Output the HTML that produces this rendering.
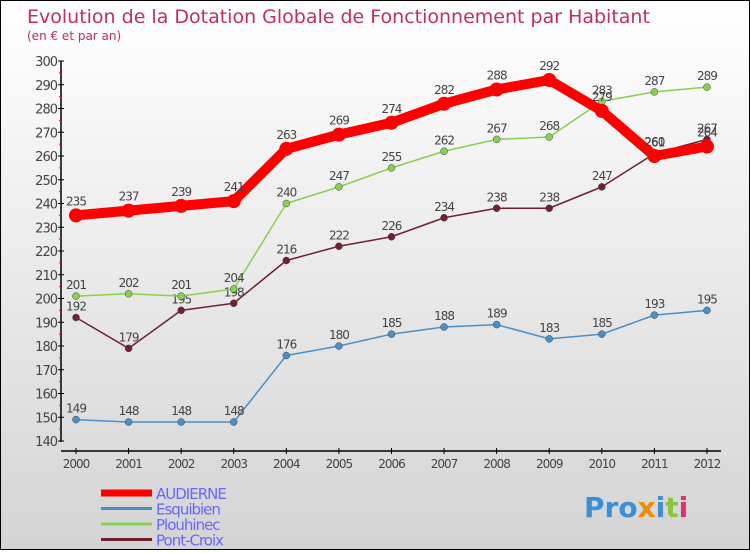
<!DOCTYPE html>
<html><head><meta charset="utf-8"><style>
body{margin:0}
#c{width:748px;height:548px;border:1px solid #000;background:linear-gradient(#fff,#d4d4d4);position:relative;font-family:"DejaVu Sans","Liberation Sans",sans-serif}
svg text{font-family:"DejaVu Sans","Liberation Sans",sans-serif}
</style></head><body>
<div id="c">
<svg id="s" width="748" height="548">
<text x="26" y="22" font-size="19" fill="#c0305a">Evolution de la Dotation Globale de Fonctionnement par Habitant</text>
<text x="26" y="39" font-size="12" fill="#c0305a">(en € et par an)</text>
<g id="axes"></g><g id="plot"></g><g id="legend"></g>
<text x="583" y="516" font-size="28" font-weight="bold" fill="#3a8fd8">Pro<tspan fill="#f08a00">x</tspan><tspan fill="#3a8fd8">i</tspan><tspan fill="#8ac43a">t</tspan><tspan fill="#e03070">i</tspan></text>
</svg></div>
<script>
const years=[2000,2001,2002,2003,2004,2005,2006,2007,2008,2009,2010,2011,2012];
const yTicks=[140,150,160,170,180,190,200,210,220,230,240,250,260,270,280,290,300];
const seriesNames=["AUDIERNE","Esquibien","Plouhinec","Pont-Croix"];
const audierne=[235,237,239,241,263,269,274,282,288,292,279,260,264];
const esquibien=[149,148,148,148,176,180,185,188,189,183,185,193,195];
const plouhinec=[201,202,201,204,240,247,255,262,267,268,283,287,289];
const pontCroix=[192,179,195,198,216,222,226,234,238,238,247,261,267];
const NS="http://www.w3.org/2000/svg";
const X=i=>75+i*52.58, Y=v=>440-(v-140)*2.375;
function mk(t,a,p){const e=document.createElementNS(NS,t);for(const k in a)e.setAttribute(k,a[k]);p.appendChild(e);return e;}
const ax=document.getElementById('axes'),pl=document.getElementById('plot'),lg=document.getElementById('legend');
let e=mk('line',{x1:60,y1:60,x2:60,y2:441,stroke:'#000','stroke-width':1.5},ax);

e=mk('line',{x1:60,y1:450,x2:720,y2:450,stroke:'#000','stroke-width':1.5},ax);

yTicks.forEach((v,i)=>{
 mk('line',{x1:57,y1:Y(v),x2:63,y2:Y(v),stroke:'#000'},ax);
 if(i<yTicks.length-1)mk('line',{x1:58,y1:Y(v+5),x2:61,y2:Y(v+5),stroke:'#e00'},ax);
 const t=mk('text',{x:56,y:Y(v)+5,'text-anchor':'end','font-size':13,fill:'#444','letter-spacing':'-1'},ax);t.textContent=v;
 
});
years.forEach((y,i)=>{
 mk('line',{x1:X(i),y1:447,x2:X(i),y2:453,stroke:'#000'},ax);
 const t=mk('text',{x:X(i),y:467,'text-anchor':'middle','font-size':12,fill:'#444','letter-spacing':'-1'},ax);t.textContent=y;
 
});
const data=[audierne,esquibien,plouhinec,pontCroix];
const cols=['#f00','#4a90c8','#88d050','#702030'];
const order=[1,3,2,0];
order.forEach(si=>{
 const d=data[si],w=si==0?10:1.5,r=si==0?7:3.5;
 const p=mk('polyline',{points:d.map((v,i)=>X(i)+','+Y(v)).join(' '),fill:'none',stroke:cols[si],'stroke-width':w,'stroke-linejoin':'round'},pl);
 
 d.forEach((v,i)=>{
  const c=mk('circle',{cx:X(i),cy:Y(v),r:r,fill:cols[si],stroke:si==0?'none':'#444','stroke-width':0.5},pl);
  
  const t=mk('text',{x:X(i),y:Y(v)-(si==0?10:7),'text-anchor':'middle','font-size':12,fill:'#444','letter-spacing':'-1'},pl);t.textContent=v;
  
 });
});
seriesNames.forEach((n,i)=>{
 const y=492+i*15.5;
 const l=mk('line',{x1:100,y1:y,x2:151,y2:y,stroke:cols[i],'stroke-width':i==0?7:3},lg);
 
 const t=mk('text',{x:155,y:y+6,'font-size':15,fill:'#6666ff','letter-spacing':'-1'},lg);t.textContent=n;
 
});
</script></body></html>
